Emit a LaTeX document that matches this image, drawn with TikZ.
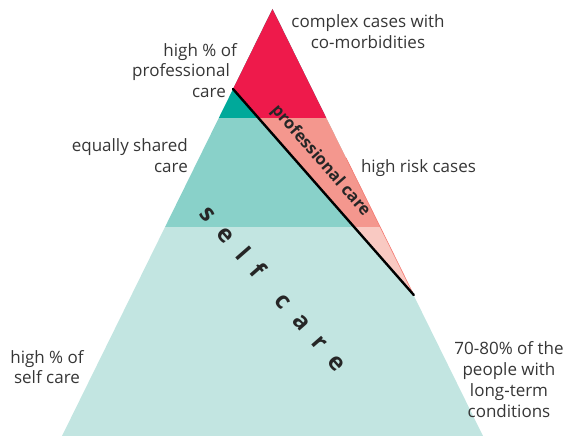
\documentclass[tikz,border=0pt]{standalone}
\usepackage{fontspec}
\setmainfont{Open Sans}
\usetikzlibrary{calc}
\definecolor{redA}{HTML}{EE1A4B}
\definecolor{redB}{HTML}{F4978E}
\definecolor{redC}{HTML}{F9C9C2}
\definecolor{tealA}{HTML}{00A99A}
\definecolor{tealB}{HTML}{89D1C9}
\definecolor{tealC}{HTML}{C2E5E1}
\definecolor{txt}{HTML}{363636}
\newcommand{\ls}{\hspace{0.6em}}
\begin{document}
\begin{tikzpicture}[x=1pt,y=-1pt,
  lbl/.style={text=txt,font=\fontsize{17}{20.8}\selectfont,inner sep=0pt}]
\useasboundingbox (0,0) rectangle (571,436);
\coordinate (A) at (272.5,9);
\coordinate (BL) at (62,436);
\coordinate (BR) at (483,436);
\coordinate (P) at (233,89);
\coordinate (Q) at (413.8,295);
% teal bands
\begin{scope}
\clip (A)--(BL)--(BR)--cycle;
\fill[tealA] (0,0) rectangle (571,118);
\fill[tealB] (0,118) rectangle (571,227);
\fill[tealC] (0,227) rectangle (571,437);
\end{scope}
% red bands above the line
\begin{scope}
\clip (A)--(P)--(Q)--cycle;
\fill[redA] (0,0) rectangle (571,118);
\fill[redB] (0,118) rectangle (571,227);
\fill[redC] (0,227) rectangle (571,437);
\end{scope}
\draw[redB!80!red,line width=0.6pt] ($(A)!0.52!(Q)$) -- (Q);
\draw[line width=2.4pt,line cap=round] (P) -- (Q);
% rotated labels
\node[text=black!85,font=\fontsize{16.5}{16.5}\selectfont\bfseries,rotate=-48.85,inner sep=0pt] (prof) at (320.5,161) {professional care};
\node[text=black!85,font=\fontsize{24}{24}\selectfont\bfseries,rotate=-48.85,inner sep=0pt] (self) at (274,288) {s\ls e\ls l\ls f\ls\ls c\ls a\ls r\ls e};
% side labels
\node[lbl,align=center] (cc) at (368,31.5) {complex cases with\\co-morbidities};
\node[lbl,anchor=east] (hp1) at (237,52) {high \% of};
\node[lbl,anchor=east] (hp2) at (230,72.5) {professional};
\node[lbl,anchor=east] (hp3) at (226,93) {care};
\node[lbl,align=right,anchor=east] (es) at (188,156) {equally shared\\care};
\node[lbl] (hr) at (418.5,168) {high risk cases};
\node[lbl,align=center] (hs) at (47,367) {high \% of\\self care};
\node[lbl,align=center] (lt) at (509,379.5) {70-80\% of the\\people with\\long-term\\conditions};
\end{tikzpicture}
\end{document}
